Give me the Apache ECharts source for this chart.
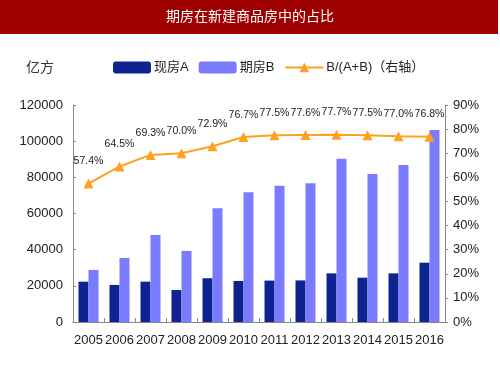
<!DOCTYPE html>
<html>
<head>
<meta charset="utf-8">
<script src="https://cdn.jsdelivr.net/npm/echarts@6/dist/echarts.min.js"></script>
<style>
  html, body { margin: 0; padding: 0; background: #fff; }
  #chart { width: 500px; height: 375px; }
</style>
</head>
<body>
<div id="chart"></div>
<script>
var years = ['2005','2006','2007','2008','2009','2010','2011','2012','2013','2014','2015','2016'];
var xianfang = [22300, 20500, 22300, 17700, 24200, 22700, 22900, 23000, 26900, 24500, 26900, 32800];
var qifang = [28800, 35400, 48100, 39300, 62900, 71700, 75400, 76700, 90300, 81900, 86800, 106200];
var ratio = [57.4, 64.5, 69.3, 70.0, 72.9, 76.7, 77.5, 77.6, 77.7, 77.5, 77.0, 76.8];
var legendNames = ['现房A', '期房B', 'B/(A+B)（右轴）'];

var font = 'Liberation Sans, Arial, Noto Sans CJK SC, sans-serif';
var chart = echarts.init(document.getElementById('chart'));

var option = {
  animation: false,
  textStyle: { fontFamily: font },
  graphic: [
    { type: 'rect', left: 0, top: 0, shape: { width: 498, height: 34 }, style: { fill: '#9e0000' } },
    { type: 'text', left: 'center', top: 10, style: { text: '期房在新建商品房中的占比', fill: '#fff', fontSize: 14, fontFamily: font } },
    { type: 'text', left: 26, top: 61, style: { text: '亿方', fill: '#333', fontSize: 14, fontFamily: font } }
  ],
  legend: {
    top: 56,
    left: 108,
    itemWidth: 38,
    itemHeight: 12,
    itemGap: 10,
    textStyle: { color: '#222', fontSize: 13, padding: [0, 0, 0, -2] },
    data: [
      { name: legendNames[0], icon: 'roundRect' },
      { name: legendNames[1], icon: 'roundRect' },
      { name: legendNames[2] }
    ]
  },
  grid: { left: 73, right: 55, top: 105, bottom: 53, containLabel: false },
  xAxis: {
    type: 'category',
    data: years,
    axisLine: { lineStyle: { color: '#888', width: 1 } },
    axisTick: { show: true, inside: true, length: 4, lineStyle: { color: '#888' } },
    axisLabel: { color: '#222', fontSize: 13, margin: 12, interval: 0 }
  },
  yAxis: [
    {
      type: 'value', min: 0, max: 120000, interval: 20000,
      splitLine: { show: false },
      axisLine: { show: true, lineStyle: { color: '#888' } },
      axisTick: { show: true, inside: true, length: 3, lineStyle: { color: '#888' } },
      axisLabel: { color: '#222', fontSize: 13, margin: 10, formatter: function (v) { return String(v); } }
    },
    {
      type: 'value', min: 0, max: 90, interval: 10, position: 'right',
      splitLine: { show: false },
      axisLine: { show: true, lineStyle: { color: '#888' } },
      axisTick: { show: true, length: 3, lineStyle: { color: '#888' } },
      axisLabel: { color: '#222', fontSize: 13, margin: 8, formatter: '{value}%' }
    }
  ],
  series: [
    {
      name: legendNames[0], type: 'bar', data: xianfang,
      barWidth: 10, barGap: '0%',
      itemStyle: { color: '#0d2490' }
    },
    {
      name: legendNames[1], type: 'bar', data: qifang,
      barWidth: 10,
      itemStyle: { color: '#7b7bff' }
    },
    {
      name: legendNames[2], type: 'line', yAxisIndex: 1, data: ratio,
      symbol: 'triangle', symbolSize: 10,
      lineStyle: { color: '#ffa020', width: 2 },
      itemStyle: { color: '#ffa020' },
      label: {
        show: true, position: 'top', distance: 12,
        color: '#222', fontSize: 10.5,
        formatter: function (p) { return p.value.toFixed(1) + '%'; }
      }
    }
  ]
};
chart.setOption(option);
</script>
</body>
</html>
